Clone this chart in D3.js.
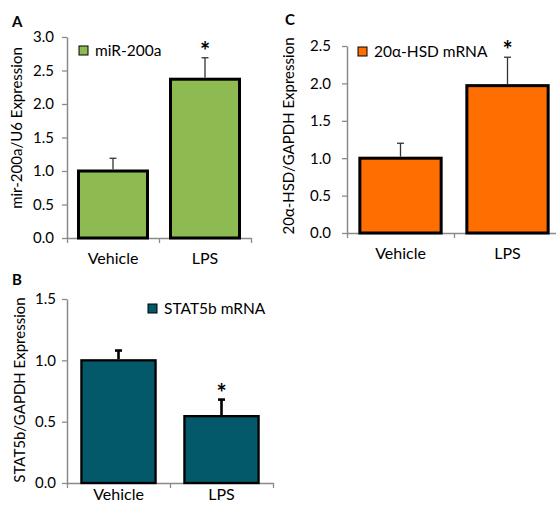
<!DOCTYPE html>
<html>
<head>
<meta charset="utf-8">
<script src="https://cdn.jsdelivr.net/npm/d3@7"></script>
<style>
  body { margin: 0; background: #fff; }
  svg text { font-family: Lato, "Open Sans", sans-serif; fill: #000; }
</style>
</head>
<body>
<div id="fig"></div>
<script>
// groups on the x axis (same for every panel)
var groups = ["Vehicle", "LPS"];

// panel A: miR-200a
var mirValues = [1.0, 2.37];
var mirErrors = [0.19, 0.32];
var mirTicks = [0, 0.5, 1.0, 1.5, 2.0, 2.5, 3.0];

// panel B: STAT5b
var statValues = [1.0, 0.545];
var statErrors = [0.08, 0.135];
var statTicks = [0, 0.5, 1.0, 1.5];

// panel C: 20a-HSD
var hsdValues = [1.0, 1.97];
var hsdErrors = [0.20, 0.38];
var hsdTicks = [0, 0.5, 1.0, 1.5, 2.0, 2.5];

var svgWidth = 556;
var svgHeight = 505;

var svg = d3.select("#fig")
  .append("svg")
  .attr("width", svgWidth)
  .attr("height", svgHeight);

// layout of each panel (pixel boxes)
var panels = [
  {
    letter: "A", values: mirValues, errors: mirErrors, ticks: mirTicks,
    color: "#8dbb52", ylabel: "mir-200a/U6 Expression", legend: "miR-200a",
    x0: 67, x1: 251, yBottom: 238, yTop: 37,
    letterPos: [12, 27], ylabelPos: [22, 128], legendPos: [79, 46],
    barStroke: 3, errStroke: 1.3, errColor: "#333", padding: 0.25,
    tickPad: 8, xlabelGap: 30
  },
  {
    letter: "B", values: statValues, errors: statErrors, ticks: statTicks,
    color: "#03596a", ylabel: "STAT5b/GAPDH Expression", legend: "STAT5b mRNA",
    x0: 67, x1: 273, yBottom: 483, yTop: 299,
    letterPos: [12, 285], ylabelPos: [25, 390], legendPos: [148, 304],
    barStroke: 2.3, errStroke: 2.6, errColor: "#000", padding: 0.28,
    tickPad: 6, xlabelGap: 21
  },
  {
    letter: "C", values: hsdValues, errors: hsdErrors, ticks: hsdTicks,
    color: "#ff6e00", ylabel: "20\u03b1-HSD/GAPDH Expression", legend: "20\u03b1-HSD mRNA",
    x0: 347, x1: 561, yBottom: 233, yTop: 46,
    letterPos: [285, 25], ylabelPos: [294, 136], legendPos: [358, 47],
    barStroke: 3, errStroke: 1.3, errColor: "#333", padding: 0.24,
    tickPad: 11, xlabelGap: 30
  }
];

panels.forEach(function(p) {
  var g = svg.append("g");
  var yMax = p.ticks[p.ticks.length - 1];

  var xBand = d3.scaleBand()
    .domain(groups)
    .range([p.x0, p.x1])
    .paddingInner(p.padding)
    .paddingOuter(p.padding / 2);

  var yScale = d3.scaleLinear()
    .domain([0, yMax])
    .range([p.yBottom, p.yTop]);

  // y axis
  var yAxis = g.append("g")
    .attr("transform", "translate(" + p.x0 + ",0)")
    .call(d3.axisLeft(yScale)
      .tickValues(p.ticks)
      .tickFormat(d3.format(".1f"))
      .tickSize(5)
      .tickSizeOuter(0)
      .tickPadding(p.tickPad));
  yAxis.select(".domain").attr("stroke", "#8a8a8a").attr("stroke-width", 1.5);
  yAxis.selectAll(".tick line").attr("stroke", "#8a8a8a").attr("stroke-width", 1.3);
  yAxis.selectAll(".tick text").style("font-size", "15px").attr("fill", "#000");

  // x axis: boundary ticks
  var xEdges = d3.scaleLinear().domain([0, groups.length]).range([p.x0, p.x1]);
  var xAxis = g.append("g")
    .attr("transform", "translate(0," + p.yBottom + ")")
    .call(d3.axisBottom(xEdges)
      .tickValues(d3.range(groups.length + 1))
      .tickFormat("")
      .tickSize(5)
      .tickSizeOuter(0));
  xAxis.select(".domain").attr("stroke", "#8a8a8a").attr("stroke-width", 1.5);
  xAxis.selectAll(".tick line").attr("stroke", "#8a8a8a").attr("stroke-width", 1.3);

  // x axis: category labels
  var xLabels = g.append("g")
    .attr("transform", "translate(0," + p.yBottom + ")")
    .call(d3.axisBottom(xBand).tickSize(0).tickPadding(p.xlabelGap - 15));
  xLabels.select(".domain").remove();
  xLabels.selectAll(".tick text").style("font-size", "16px").attr("fill", "#000");

  // bars
  g.selectAll(".bar")
    .data(p.values)
    .enter()
    .append("rect")
    .attr("class", "bar")
    .attr("x", (d, i) => xBand(groups[i]))
    .attr("y", d => yScale(d))
    .attr("width", xBand.bandwidth())
    .attr("height", d => yScale(0) - yScale(d))
    .attr("fill", p.color)
    .attr("stroke", "#000")
    .attr("stroke-width", p.barStroke);

  // error bars (upper only)
  var capHalf = 3.5;
  p.values.forEach(function(v, i) {
    var cx = xBand(groups[i]) + xBand.bandwidth() / 2;
    var top = yScale(v + p.errors[i]);
    g.append("line")
      .attr("x1", cx).attr("x2", cx)
      .attr("y1", yScale(v) - p.barStroke / 2).attr("y2", top)
      .attr("stroke", p.errColor).attr("stroke-width", p.errStroke);
    g.append("line")
      .attr("x1", cx - capHalf).attr("x2", cx + capHalf)
      .attr("y1", top).attr("y2", top)
      .attr("stroke", p.errColor).attr("stroke-width", p.errStroke);
  });

  // significance star over LPS
  var lpsX = xBand("LPS") + xBand.bandwidth() / 2;
  var lpsTop = yScale(p.values[1] + p.errors[1]);
  g.append("text")
    .attr("x", lpsX)
    .attr("y", lpsTop + 2)
    .attr("text-anchor", "middle")
    .style("font-size", "24px")
    .style("font-weight", "bold")
    .text("*");

  // legend
  g.append("rect")
    .attr("x", p.legendPos[0])
    .attr("y", p.legendPos[1])
    .attr("width", 9)
    .attr("height", 9)
    .attr("fill", p.color)
    .attr("stroke", "#000")
    .attr("stroke-width", 1);
  g.append("text")
    .attr("x", p.legendPos[0] + 16)
    .attr("y", p.legendPos[1] + 10)
    .style("font-size", "15.5px")
    .text(p.legend);

  // y axis title
  g.append("text")
    .attr("transform", "translate(" + p.ylabelPos[0] + "," + p.ylabelPos[1] + ") rotate(-90)")
    .attr("text-anchor", "middle")
    .style("font-size", "15px")
    .text(p.ylabel);

  // panel letter
  g.append("text")
    .attr("x", p.letterPos[0])
    .attr("y", p.letterPos[1])
    .style("font-size", "15px")
    .style("font-weight", "bold")
    .text(p.letter);
});
</script>
</body>
</html>
